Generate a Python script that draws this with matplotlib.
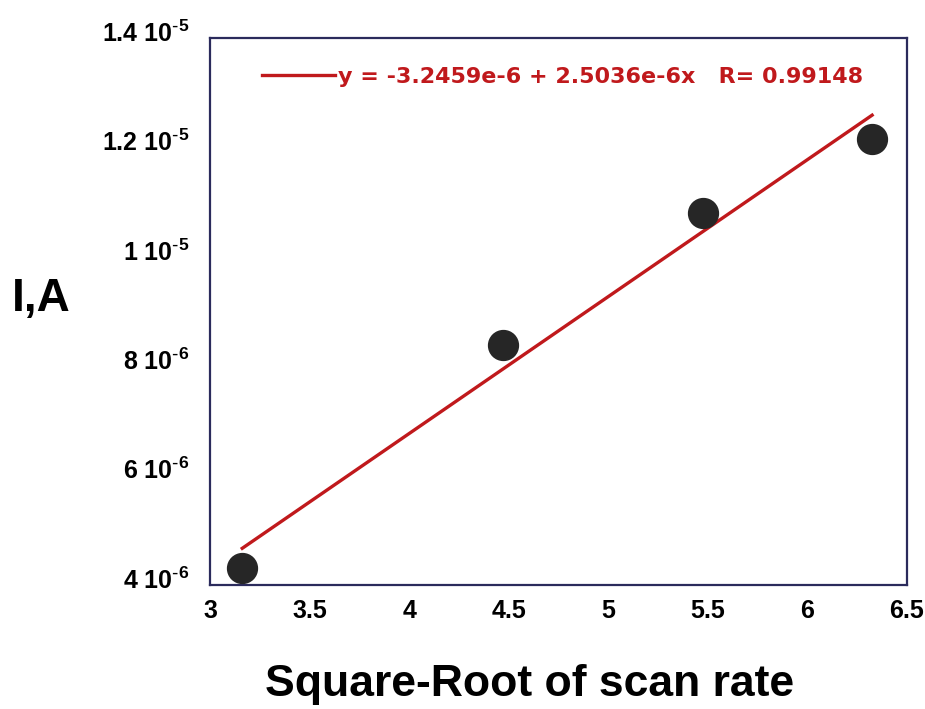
import numpy as np
import matplotlib
matplotlib.use("Agg")
import matplotlib.pyplot as plt
import matplotlib.transforms as mtransforms

plt.rcParams['font.family'] = ['Liberation Sans', 'DejaVu Sans']
plt.rcParams['mathtext.default'] = 'regular'

x_vals = [3.162, 4.472, 5.477, 6.325]
y_vals = [4.31e-6, 8.39e-6, 10.80e-6, 12.15e-6]
intercept = -3.2459e-6
slope = 2.5036e-6
r_value = 0.99148

x_ticks = [3, 3.5, 4, 4.5, 5, 5.5, 6, 6.5]
x_tick_labels = ['3', '3.5', '4', '4.5', '5', '5.5', '6', '6.5']
y_ticks = [4e-6, 6e-6, 8e-6, 1e-5, 1.2e-5, 1.4e-5]
y_tick_labels = [r'4 10$^{\text{-}6}$', r'6 10$^{\text{-}6}$', r'8 10$^{\text{-}6}$',
                 r'1 10$^{\text{-}5}$', r'1.2 10$^{\text{-}5}$', r'1.4 10$^{\text{-}5}$']

fig = plt.figure(figsize=(9.25, 7.09), dpi=100)
ax = fig.add_axes([0.227, 0.1749, 0.7535, 0.7715])

xs = np.array([min(x_vals), max(x_vals)])
label = 'y = -3.2459e-6 + 2.5036e-6x   R= 0.99148'
ax.plot(xs, intercept + slope * xs, color='#c0191c', lw=2.4, label=label)
ax.plot(x_vals, y_vals, 'o', color='#262626', markersize=21.5, zorder=3)

ax.set_xlim(3, 6.5)
ax.set_ylim(4e-6, 1.4e-5)
ax.set_xticks(x_ticks)
ax.set_xticklabels(x_tick_labels, fontsize=18, fontweight='bold')
ax.set_yticks(y_ticks)
ax.set_yticklabels(y_tick_labels, fontsize=18, fontweight='bold')
ax.tick_params(length=0)
ax.tick_params(axis='x', pad=10)
ax.tick_params(axis='y', pad=15)
offset = mtransforms.ScaledTranslation(0, 5 / 72, fig.dpi_scale_trans)
for lab in ax.get_yticklabels():
    lab.set_transform(lab.get_transform() + offset)
for s in ax.spines.values():
    s.set_color('#2b2b5c')
    s.set_linewidth(1.6)

leg = ax.legend(loc='center left', bbox_to_anchor=(52 / 697, 0.929), frameon=False,
                borderpad=0, borderaxespad=0,
                handlelength=3.3, handletextpad=0.1,
                prop={'family': 'DejaVu Sans', 'size': 16, 'weight': 'bold'})
for t in leg.get_texts():
    t.set_color('#c0191c')

fig.text(0.0443, 0.578, 'I,A', fontsize=33, fontweight='bold', ha='center', va='center')
fig.text(0.572, 0.034, 'Square-Root of scan rate', fontsize=32, fontweight='bold',
         ha='center', va='center')

fig.savefig('out.png', dpi=100)
